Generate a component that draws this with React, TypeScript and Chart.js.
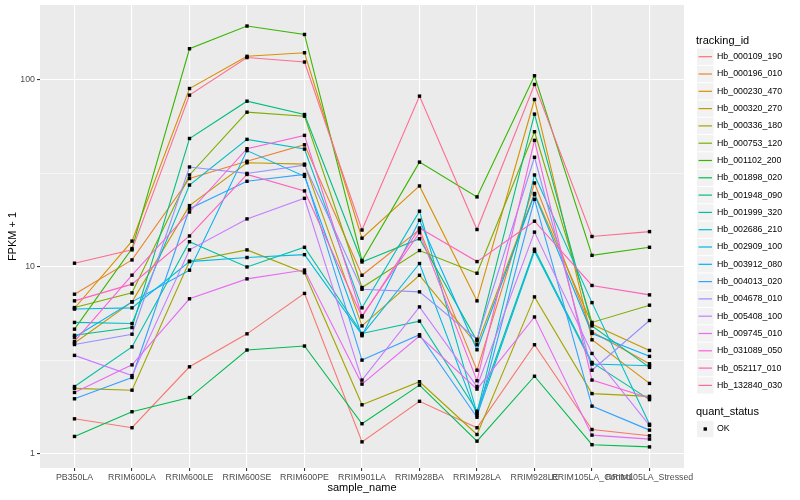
import React, { useEffect, useRef } from "react";
import { Chart, registerables } from "chart.js";

Chart.register(...registerables);

const FONT = "'Liberation Sans', Arial, sans-serif";

const categories = [
  "PB350LA", "RRIM600LA", "RRIM600LE", "RRIM600SE", "RRIM600PE", "RRIM901LA",
  "RRIM928BA", "RRIM928LA", "RRIM928LE", "RRIM105LA_Control", "RRIM105LA_Stressed",
];

const trackingIds = [
  "Hb_000109_190", "Hb_000196_010", "Hb_000230_470", "Hb_000320_270", "Hb_000336_180",
  "Hb_000753_120", "Hb_001102_200", "Hb_001898_020", "Hb_001948_090", "Hb_001999_320",
  "Hb_002686_210", "Hb_002909_100", "Hb_003912_080", "Hb_004013_020", "Hb_004678_010",
  "Hb_005408_100", "Hb_009745_010", "Hb_031089_050", "Hb_052117_010", "Hb_132840_030",
];

const seriesColors = [
  "#F8766D", "#EA8331", "#D89000", "#C09B00", "#A3A500", "#7CAE00", "#39B600",
  "#00BB4E", "#00BF7D", "#00C1A3", "#00BFC4", "#00BAE0", "#00B0F6", "#35A2FF",
  "#9590FF", "#C77CFF", "#E76BF3", "#FA62DB", "#FF62BC", "#FF6C91",
];

const hb000109_190 = [1.54, 1.38, 2.92, 4.38, 7.2, 1.16, 1.91, 1.38, 3.83, 1.35, 1.25];
const hb000196_010 = [7.13, 10.87, 29.6, 36.6, 44.8, 9.0, 15.8, 2.8, 28, 4.49, 3.03];
const hb000230_470 = [6.0, 13.7, 89.5, 133, 139, 14.2, 27, 6.57, 78.2, 4.07, 2.38];
const hb000320_270 = [3.91, 6.49, 21.2, 35.9, 35.3, 4.83, 9.0, 3.83, 24.6, 4.93, 3.57];
const hb000336_180 = [2.24, 2.19, 10.7, 12.3, 9.29, 1.83, 2.43, 1.27, 6.9, 2.1, 2.03];
const hb000753_120 = [6.05, 7.25, 30.9, 66.9, 63.7, 7.74, 12.2, 9.23, 52.6, 5.04, 6.23];
const hb001102_200 = [4.64, 12.5, 146, 193, 174, 10.8, 36.2, 23.6, 104.7, 11.5, 12.7];
const hb001898_020 = [1.24, 1.68, 2.0, 3.59, 3.77, 1.45, 2.33, 1.17, 2.6, 1.12, 1.09];
const hb001948_090 = [4.3, 4.73, 48.4, 76.6, 65, 10.6, 14.1, 4.02, 65.3, 4.83, 2.9];
const hb001999_320 = [2.29, 3.73, 13.6, 9.97, 12.7, 4.4, 5.12, 1.69, 12.4, 3.08, 1.95];
const hb002686_210 = [5.04, 4.97, 27.3, 47.9, 42.5, 6.03, 19.8, 1.65, 30.9, 6.43, 1.44];
const hb002909_100 = [5.94, 6.03, 10.65, 11.2, 11.6, 4.33, 10.4, 1.61, 12.1, 3.02, 2.96];
const hb003912_080 = [4.2, 6.49, 9.58, 41.7, 30.4, 4.28, 17.7, 3.6, 24.3, 4.4, 3.32];
const hb004013_020 = [1.97, 2.56, 20.4, 28.6, 31.1, 3.17, 4.33, 1.57, 22.9, 1.8, 1.34];
const hb004678_010 = [3.84, 4.36, 34.1, 31.5, 34.9, 7.58, 7.34, 4.1, 38.4, 2.8, 5.16];
const hb005408_100 = [3.36, 2.62, 12.3, 18, 23.2, 2.48, 6.1, 2.29, 15.3, 3.44, 1.42];
const hb009745_010 = [2.13, 2.99, 6.74, 8.61, 9.6, 2.36, 4.26, 2.22, 5.39, 1.26, 1.2];
const hb031089_050 = [3.99, 9.01, 19.6, 42.7, 50.3, 5.47, 15.2, 2.46, 47.3, 2.48, 1.99];
const hb052117_010 = [6.57, 8.07, 14.6, 31.1, 25.4, 5.39, 16.1, 10.65, 17.5, 7.94, 7.07];
const hb132840_030 = [10.44, 12.3, 82.5, 131, 124, 15.7, 81.5, 15.8, 94.1, 14.5, 15.4];

const seriesValues = [
  hb000109_190, hb000196_010, hb000230_470, hb000320_270, hb000336_180,
  hb000753_120, hb001102_200, hb001898_020, hb001948_090, hb001999_320,
  hb002686_210, hb002909_100, hb003912_080, hb004013_020, hb004678_010,
  hb005408_100, hb009745_010, hb031089_050, hb052117_010, hb132840_030,
];

const yMajorTicks = [1, 10, 100];
const yMinorTicks = [3.1623, 31.623];
const yTickLabels = ["1", "10", "100"];

const legendTitle = "tracking_id";
const shapeLegendTitle = "quant_status";
const shapeLegendLabels = ["OK"];

const isMajor = (v: number) => yMajorTicks.some((m) => Math.abs(m - v) < 1e-6);

const panelBg = {
  id: "panelBg",
  beforeDraw(chart: any) {
    const { ctx, chartArea } = chart;
    ctx.save();
    ctx.fillStyle = "#EBEBEB";
    ctx.fillRect(chartArea.left, chartArea.top, chartArea.right - chartArea.left, chartArea.bottom - chartArea.top);
    ctx.restore();
  },
};

const pointsOnTop = {
  id: "pointsOnTop",
  afterDatasetsDraw(chart: any) {
    const { ctx } = chart;
    ctx.save();
    ctx.fillStyle = "#000000";
    const s = 3.4;
    chart.getSortedVisibleDatasetMetas().forEach((meta: any) => {
      meta.data.forEach((el: any) => {
        ctx.fillRect(el.x - s / 2, el.y - s / 2, s, s);
      });
    });
    ctx.restore();
  },
};

const ggLegend = {
  id: "ggLegend",
  afterDraw(chart: any) {
    const { ctx } = chart;
    const keyX = 697;
    const keyW = 16.5;
    const textX = 717;
    const startY = 56.7;
    const step = 17.3;
    ctx.save();
    ctx.textBaseline = "middle";
    ctx.textAlign = "left";
    ctx.fillStyle = "#000000";
    ctx.font = `11px ${FONT}`;
    ctx.fillText(legendTitle, 696, 40.5);
    chart.data.datasets.forEach((ds: any, i: number) => {
      const yc = startY + i * step;
      ctx.fillStyle = "#F2F2F2";
      ctx.fillRect(keyX, yc - step / 2 + 0.5, keyW, step - 1);
      ctx.strokeStyle = ds.borderColor;
      ctx.lineWidth = 1.2;
      ctx.beginPath();
      ctx.moveTo(keyX + 1.5, yc);
      ctx.lineTo(keyX + keyW - 1.5, yc);
      ctx.stroke();
      ctx.fillStyle = "#000000";
      ctx.font = `8.8px ${FONT}`;
      ctx.fillText(ds.label, textX, yc);
    });
    ctx.font = `11px ${FONT}`;
    ctx.fillText(shapeLegendTitle, 696, 412);
    shapeLegendLabels.forEach((lab, i) => {
      const yc = 429 + i * step;
      ctx.fillStyle = "#F2F2F2";
      ctx.fillRect(keyX, yc - step / 2 + 0.5, keyW, step - 1);
      ctx.fillStyle = "#000000";
      ctx.fillRect(keyX + keyW / 2 - 1.7, yc - 1.7, 3.4, 3.4);
      ctx.font = `8.8px ${FONT}`;
      ctx.fillText(lab, textX, yc);
    });
    ctx.restore();
  },
};

export default function App() {
  const ref = useRef<HTMLCanvasElement>(null);

  useEffect(() => {
    document.body.style.margin = "0";
    const canvas = ref.current;
    if (!canvas) return;
    const chart = new Chart(canvas, {
      type: "line",
      data: {
        datasets: trackingIds.map((id, i) => ({
          label: id,
          data: seriesValues[i].map((v, j) => ({ x: j, y: v })),
          borderColor: seriesColors[i],
          backgroundColor: seriesColors[i],
          borderWidth: 1.1,
          pointRadius: 0,
          pointHoverRadius: 0,
          tension: 0,
          fill: false,
          order: trackingIds.length - i,
        })),
      },
      options: {
        responsive: false,
        animation: false,
        events: [],
        layout: { padding: { left: 0, right: 116, top: 5, bottom: 0 } },
        plugins: { legend: { display: false }, tooltip: { enabled: false } },
        scales: {
          x: {
            type: "linear",
            min: -0.6,
            max: 10.6,
            afterBuildTicks: (s: any) => {
              s.ticks = categories.map((_, i) => ({ value: i }));
            },
            afterFit: (s: any) => {
              s.height = 32;
              s.paddingLeft = 0;
              s.paddingRight = 0;
            },
            ticks: {
              autoSkip: false,
              maxRotation: 0,
              minRotation: 0,
              padding: 1,
              color: "#4D4D4D",
              font: { family: FONT, size: 8.8 },
              callback: (v: any) => categories[Math.round(Number(v))] ?? "",
            },
            grid: { color: "#FFFFFF", lineWidth: 1.1, tickColor: "#333333", tickLength: 3 },
            border: { display: false },
            title: {
              display: true,
              text: "sample_name",
              color: "#000000",
              font: { family: FONT, size: 11 },
              padding: { top: 0, bottom: 5 },
            },
          },
          y: {
            type: "logarithmic",
            min: 0.841,
            max: 250,
            afterBuildTicks: (s: any) => {
              s.ticks = [...yMajorTicks, ...yMinorTicks].sort((a, b) => a - b).map((v) => ({ value: v }));
            },
            afterFit: (s: any) => {
              s.width = 40;
              s.paddingTop = 0;
              s.paddingBottom = 0;
            },
            ticks: {
              padding: 2,
              color: "#4D4D4D",
              font: { family: FONT, size: 8.8 },
              callback: (v: any) => {
                const idx = yMajorTicks.findIndex((m) => Math.abs(m - Number(v)) < 1e-6);
                return idx >= 0 ? yTickLabels[idx] : "";
              },
            },
            grid: {
              color: "#FFFFFF",
              lineWidth: (c: any) => (isMajor(c.tick.value) ? 1.1 : 0.55),
              tickColor: (c: any) => (isMajor(c.tick.value) ? "#333333" : "rgba(0,0,0,0)"),
              tickLength: 3,
            },
            border: { display: false },
            title: {
              display: true,
              text: "FPKM + 1",
              color: "#000000",
              font: { family: FONT, size: 11 },
              padding: { top: 6, bottom: 0 },
            },
          },
        },
      },
      plugins: [panelBg, pointsOnTop, ggLegend],
    } as any);
    return () => chart.destroy();
  }, []);

  return (
    <div style={{ position: "absolute", left: 0, top: 0, width: 800, height: 500 }}>
      <canvas ref={ref} width={800} height={500} style={{ width: 800, height: 500 }} />
    </div>
  );
}
